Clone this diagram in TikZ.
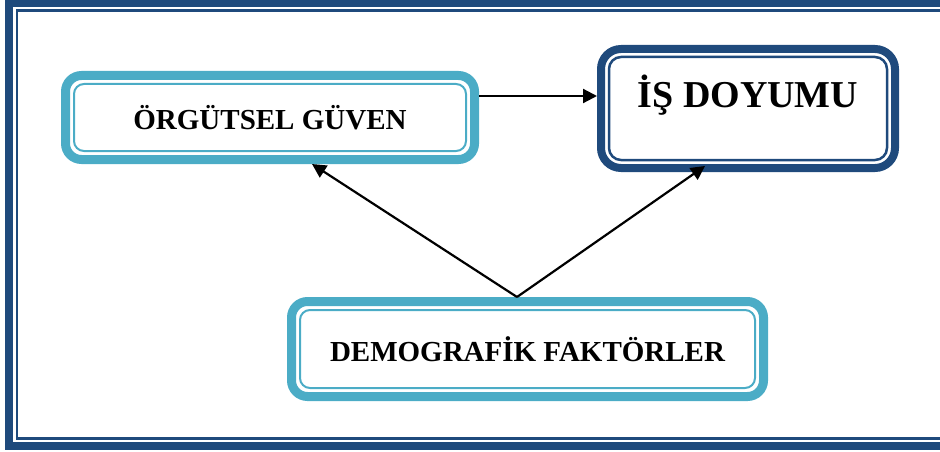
\documentclass[tikz,border=0pt]{standalone}
\usepackage{fontspec}
\setmainfont{Liberation Serif}
\usetikzlibrary{arrows.meta}
\definecolor{boxcyan}{HTML}{4BACC6}
\definecolor{boxnavy}{HTML}{1F4A7C}
\tikzset{
  cyanbox/.style={draw=boxcyan, line width=9pt, rounded corners=16pt, outer sep=4.5pt,
    font=\bfseries\fontsize{29}{34}\selectfont},
  navybox/.style={draw=boxnavy, line width=8pt, rounded corners=20pt, outer sep=4pt,
    font=\bfseries\fontsize{38}{44}\selectfont, text height=26pt, text depth=28pt},
  arr/.style={-{Triangle[length=14pt,width=14pt]}, line width=2.2pt},
}

\begin{document}
\begin{tikzpicture}[x=1pt, y=-1pt]
    \useasboundingbox (0,0) rectangle (940,452);
    \clip (0,0) rectangle (940,452);
    % page frame
    \draw[boxnavy, line width=8pt] (9,3) rectangle (960,446);
    \draw[boxnavy, line width=2.5pt] (17,10.5) rectangle (950,438.5);
    % boxes
    \node[cyanbox, minimum width=409pt, minimum height=84pt] (guven) at (270, 117.5) {ÖRGÜTSEL GÜVEN};
    \node[navybox, minimum width=294pt, minimum height=119pt] (doyum) at (748, 108.5) {İŞ DOYUMU};
    \node[cyanbox, minimum width=472pt, minimum height=95pt] (demo) at (527.5, 349) {DEMOGRAFİK FAKTÖRLER};
    \foreach \n in {guven, demo}
      \draw[boxcyan, line width=2pt, rounded corners=10pt] ([shift={(13pt,13pt)}]\n.south west) rectangle ([shift={(-13pt,-13pt)}]\n.north east);
    \draw[boxnavy, line width=2.5pt, rounded corners=12pt] ([shift={(12pt,12pt)}]doyum.south west) rectangle ([shift={(-12pt,-12pt)}]doyum.north east);
    % arrows
    \draw[arr] ([yshift=21.5pt]guven.east) -- ([yshift=21.5pt]guven.east -| doyum.west);
    \draw[arr] ([xshift=-10.5pt]demo.north) -- ([xshift=42pt]guven.south);
    \draw[arr] ([xshift=-10.5pt]demo.north) -- ([xshift=-43pt,yshift=6pt]doyum.south);
\end{tikzpicture}
\end{document}
